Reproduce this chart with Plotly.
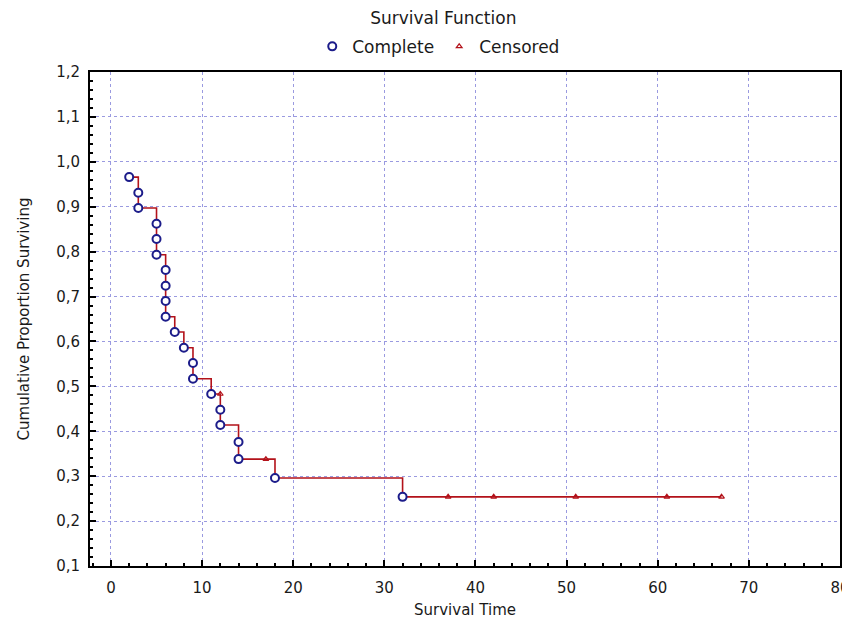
import plotly.graph_objects as go

# Kaplan-Meier step curve
step_t = [2, 3, 5, 6, 7, 8, 9, 11, 12, 14, 18, 32, 67]
step_s = [0.966, 0.897, 0.793, 0.655, 0.621, 0.586, 0.517, 0.483, 0.414, 0.338, 0.296, 0.254, 0.254]

# Complete (event) observations
comp_t = [2, 3, 3, 5, 5, 5, 6, 6, 6, 6, 7, 8, 9, 9, 11, 12, 12, 14, 14, 18, 32]
comp_s = [0.966, 0.931, 0.897, 0.862, 0.828, 0.793, 0.759, 0.724, 0.690, 0.655,
          0.621, 0.586, 0.552, 0.517, 0.483, 0.448, 0.414, 0.376, 0.338, 0.296, 0.254]

# Censored observations
cens_t = [12, 17, 37, 42, 51, 61, 67]
cens_s = [0.483, 0.338, 0.254, 0.254, 0.254, 0.254, 0.254]

x_ticks = [0, 10, 20, 30, 40, 50, 60, 70, 80]
y_ticks = [0.1, 0.2, 0.3, 0.4, 0.5, 0.6, 0.7, 0.8, 0.9, 1.0, 1.1, 1.2]

FONT = "DejaVu Sans, Verdana, sans-serif"
TXT = "#1a1a1a"
NAVY = "#1c1c8a"
RED = "#b3121a"

fig = go.Figure()
fig.add_trace(go.Scatter(x=step_t, y=step_s, mode="lines", line=dict(color=RED, width=1.6, shape="hv"),
                         showlegend=False, hoverinfo="skip"))
fig.add_trace(go.Scatter(x=comp_t, y=comp_s, mode="markers", name="Complete",
                         marker=dict(symbol="circle", size=8, color="white",
                                     line=dict(color=NAVY, width=2))))
fig.add_trace(go.Scatter(x=cens_t, y=cens_s, mode="markers", name="Censored",
                         marker=dict(symbol="triangle-up-open", size=5, color=RED,
                                     line=dict(color=RED, width=1.2))))

axis_common = dict(showline=True, linecolor="black", linewidth=2, mirror=True,
                   ticks="inside", ticklen=6, tickwidth=1.5, tickcolor="black",
                   showgrid=True, gridcolor="#9a9ae0", gridwidth=1, griddash="dot",
                   zeroline=False, automargin=False,
                   tickfont=dict(family=FONT, size=15, color=TXT))

fig.update_xaxes(range=[-2.3, 80], tickvals=x_ticks, ticklabelstandoff=7,
                 minor=dict(dtick=2, ticks="inside", ticklen=3, tickcolor="black", showgrid=False),
                 title=dict(text="Survival Time", font=dict(family=FONT, size=15, color=TXT), standoff=8),
                 **axis_common)
fig.update_yaxes(range=[0.1, 1.2], tickvals=y_ticks, tickformat=".1f", ticklabelstandoff=5,
                 minor=dict(dtick=0.02, ticks="inside", ticklen=3, tickcolor="black", showgrid=False),
                 title=dict(text="Cumulative Proportion Surviving", font=dict(family=FONT, size=15, color=TXT), standoff=23),
                 **axis_common)

fig.update_layout(
    width=842, height=622,
    margin=dict(l=82, r=10, t=64, b=64),
    paper_bgcolor="white", plot_bgcolor="white",
    separators=", ",
    title=dict(text="Survival Function", x=0.517, xanchor="center", y=0.984, yanchor="middle",
               font=dict(family=FONT, size=17, color=TXT)),
    legend=dict(orientation="h", x=0.465, xanchor="center", y=1.051, yanchor="middle",
                font=dict(family=FONT, size=17, color=TXT), itemwidth=30,
                bgcolor="rgba(0,0,0,0)"),
)

fig.write_html("out.html")
